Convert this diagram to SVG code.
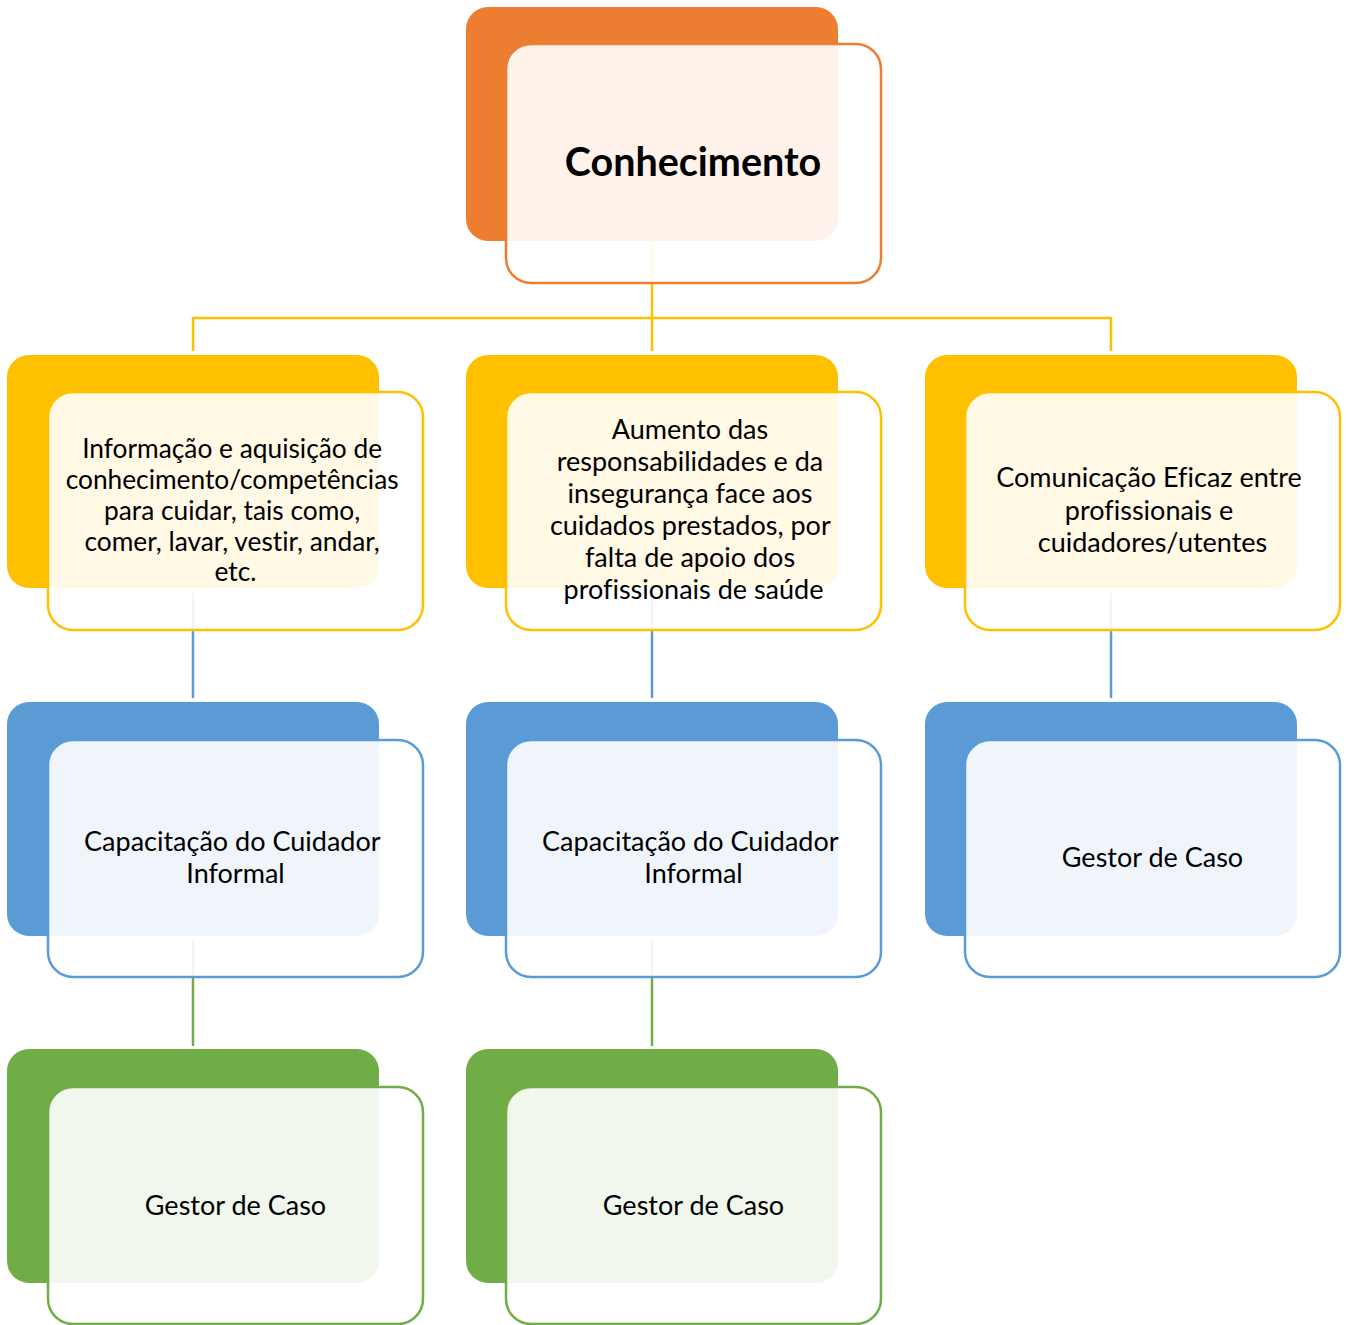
<svg xmlns="http://www.w3.org/2000/svg" width="1348" height="1325" viewBox="0 0 1348 1325">
  <style>
    .back { stroke: none; }
    .front { fill: #ffffff; fill-opacity: 0.9; stroke-width: 2.5; }
    .o .back { fill: #ED7D31; } .o .front { stroke: #ED7D31; }
    .y .back { fill: #FFC000; } .y .front { stroke: #FFC000; }
    .b .back { fill: #5B9BD5; } .b .front { stroke: #5B9BD5; }
    .g .back { fill: #70AD47; } .g .front { stroke: #70AD47; }
    .lbl { font-family: Lato, "Liberation Sans", sans-serif; font-size: 27px; fill: #000000; text-anchor: middle; font-variant-ligatures: none; }
    .title { font-family: Lato, "Liberation Sans", sans-serif; font-size: 39.5px; font-weight: bold; fill: #000000; text-anchor: middle; }
    .conn { fill: none; stroke-width: 2.5; }
    .cy { stroke: #FFC000; } .cb { stroke: #5B9BD5; } .cg { stroke: #70AD47; }
  </style>

  <!-- connectors sit beneath the node cards -->
  <g id="connectors">
    <path class="conn cy" d="M652 245 V351 M193 351 V318 H1111 V351"/>
    <path class="conn cb" d="M193 593 V698 M652 593 V698 M1111 593 V698"/>
    <path class="conn cg" d="M193 940 V1046 M652 940 V1046"/>
  </g>

  <!-- root -->
  <g id="node-conhecimento" class="o">
    <rect class="back" x="466" y="7" width="372" height="234" rx="22"/>
    <rect class="front" x="506" y="44" width="375" height="239" rx="25"/>
    <text class="title" x="693" y="176">Conhecimento</text>
  </g>

  <!-- second level -->
  <g id="node-informacao" class="y">
    <rect class="back" x="7" y="355" width="372" height="233" rx="22"/>
    <rect class="front" x="48" y="392" width="375" height="238" rx="25"/>
    <text class="lbl" style="font-size:26.3px">
      <tspan x="235.5" y="458">Informação e aquisição de</tspan>
      <tspan x="235.5" y="489">conhecimento/competências</tspan>
      <tspan x="235.5" y="520">para cuidar, tais como,</tspan>
      <tspan x="235.5" y="551">comer, lavar, vestir, andar,</tspan>
      <tspan x="235.5" y="581">etc.</tspan>
    </text>
  </g>

  <g id="node-aumento" class="y">
    <rect class="back" x="466" y="355" width="372" height="233" rx="22"/>
    <rect class="front" x="506" y="392" width="375" height="238" rx="25"/>
    <text class="lbl">
      <tspan x="693.5" y="439">Aumento das</tspan>
      <tspan x="693.5" y="471">responsabilidades e da</tspan>
      <tspan x="693.5" y="503">insegurança face aos</tspan>
      <tspan x="693.5" y="535">cuidados prestados, por</tspan>
      <tspan x="693.5" y="567">falta de apoio dos</tspan>
      <tspan x="693.5" y="599">profissionais de saúde</tspan>
    </text>
  </g>

  <g id="node-comunicacao" class="y">
    <rect class="back" x="925" y="355" width="372" height="233" rx="22"/>
    <rect class="front" x="965" y="392" width="375" height="238" rx="25"/>
    <text class="lbl">
      <tspan x="1152.5" y="487">Comunicação Eficaz entre</tspan>
      <tspan x="1152.5" y="520">profissionais e</tspan>
      <tspan x="1152.5" y="552">cuidadores/utentes</tspan>
    </text>
  </g>

  <!-- third level -->
  <g id="node-capacitacao-1" class="b">
    <rect class="back" x="7" y="702" width="372" height="234" rx="22"/>
    <rect class="front" x="48" y="740" width="375" height="237" rx="25"/>
    <text class="lbl">
      <tspan x="235.5" y="851">Capacitação do Cuidador</tspan>
      <tspan x="235.5" y="883">Informal</tspan>
    </text>
  </g>

  <g id="node-capacitacao-2" class="b">
    <rect class="back" x="466" y="702" width="372" height="234" rx="22"/>
    <rect class="front" x="506" y="740" width="375" height="237" rx="25"/>
    <text class="lbl">
      <tspan x="693.5" y="851">Capacitação do Cuidador</tspan>
      <tspan x="693.5" y="883">Informal</tspan>
    </text>
  </g>

  <g id="node-gestor-3" class="b">
    <rect class="back" x="925" y="702" width="372" height="234" rx="22"/>
    <rect class="front" x="965" y="740" width="375" height="237" rx="25"/>
    <text class="lbl" x="1152.5" y="867">Gestor de Caso</text>
  </g>

  <!-- fourth level -->
  <g id="node-gestor-1" class="g">
    <rect class="back" x="7" y="1049" width="372" height="234" rx="22"/>
    <rect class="front" x="48" y="1087" width="375" height="237" rx="25"/>
    <text class="lbl" x="235.5" y="1215">Gestor de Caso</text>
  </g>

  <g id="node-gestor-2" class="g">
    <rect class="back" x="466" y="1049" width="372" height="234" rx="22"/>
    <rect class="front" x="506" y="1087" width="375" height="237" rx="25"/>
    <text class="lbl" x="693.5" y="1215">Gestor de Caso</text>
  </g>
</svg>
